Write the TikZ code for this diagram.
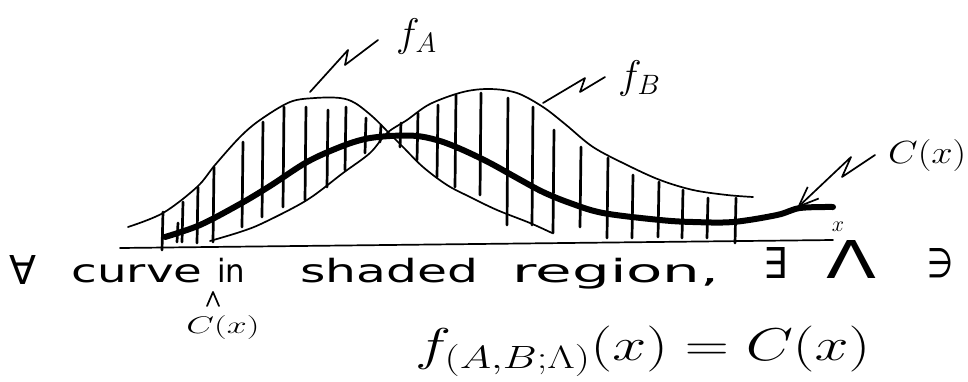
\RequirePackage{fix-cm}
\documentclass[tikz,border=0pt]{standalone}
\usepackage{fontspec}
\setmainfont{DejaVu Sans}
\usetikzlibrary{arrows.meta}
\newcommand{\hwbox}[2]{\resizebox{#1pt}{\height}{#2}}
\newcommand{\hwsym}[3]{\resizebox{#1pt}{#2pt}{#3}}
\begin{document}
\begin{tikzpicture}[x=1pt,y=-1pt,line cap=round,line join=round,
  thinline/.style={line width=1.7pt},
  hatch/.style={line width=2.7pt},
  ccurve/.style={line width=6pt},
  word/.style={inner sep=0pt,anchor=base,font=\fontsize{32}{36}\selectfont},
  every node/.style={inner sep=0pt}]
\useasboundingbox (0,0) rectangle (968,381);

% hatching
\foreach \x/\a/\b in {162/212/250,177/223/242,182/202/242,197/187/243,213/167/242,242/142/227,262/122/217,283/107/207,305/107/200,327/110/187,345/107/170,365/118/153,380/125/142,400/123/147,417/113/160,437/105/177,455/95/187,480/93/195,507/98/225,532/107/225,553/130/233,580/147/227,607/158/238,632/175/238,658/182/237,682/190/238,707/198/238,735/198/243}
  \draw[hatch] (\x+1,\a) -- (\x,\b);

% axis
\coordinate (ax0) at (120,248);
\coordinate (ax1) at (833,240);
\draw[thinline] (ax0) -- (ax1);
\node[font=\fontsize{22}{24}\selectfont] (xlab) at (838,227) {$x$};

% f_A
\draw[thinline] plot[smooth,tension=0.55] coordinates {(128,227) (163,213) (197,187) (215,165) (240,137) (260,120) (290,102) (315,98) (340,98) (355,103) (373,117) (388,132) (403,147) (423,167) (447,185) (470,197) (497,210) (530,223) (552,233)};
% f_B
\draw[thinline] plot[smooth,tension=0.55] coordinates {(210,241) (240,232) (263,223) (307,200) (343,173) (370,153) (387,133) (407,120) (430,104) (463,92) (490,89) (517,93) (543,107) (565,124) (593,147) (627,165) (660,180) (693,190) (727,195) (753,197)};
% C(x)
\draw[ccurve] plot[smooth,tension=0.55] coordinates {(165,237) (200,225) (240,204) (270,186) (307,162) (340,147) (365,139) (390,136) (417,136) (440,141) (463,150) (490,163) (517,178) (543,192) (570,203) (603,213) (660,220) (693,222) (733,222) (777,215) (800,208) (833,207)};

% labels with leaders
\node[font=\fontsize{40}{44}\selectfont,anchor=west] (fA) at (396,36) {$f_A$};
\node[font=\fontsize{40}{44}\selectfont,anchor=west] (fB) at (618,78) {$f_B$};
\node[font=\fontsize{32}{36}\selectfont,anchor=west] (Cx) at (888,155) {\hwbox{78}{$C(x)$}};
\coordinate (fAon) at (310,92);
\coordinate (fAend) at (378,40);
\draw[thinline] (fAon) -- (348,50) -- (345,65) -- (fAend);
\coordinate (fBon) at (543,103);
\coordinate (fBend) at (605,77);
\draw[thinline] (fBon) -- (585,78) -- (580,92) -- (fBend);
\coordinate (Cstart) at (875,155);
\coordinate (Con) at (797,208);
\draw[thinline,-{Straight Barb[length=20pt,width=16pt,line width=1.7pt]}] (Cstart) -- (842,177) -- (851,157) -- (Con);

% first text line
\node[word] (forall) at (23,284) {\hwsym{27}{29}{∀}};
\node[word] (curve) at (137,282) {\hwbox{131}{curve}};
\node[word] (in) at (231,282) {\hwbox{28}{in}};
\node[word] (shaded) at (389,282) {\hwbox{178}{shaded}};
\node[word] (region) at (616,282) {\hwbox{207}{region,}};
\node[word] (exists) at (775,278) {\hwsym{24}{31}{∃}};
\node[word] (lam) at (851,278) {\hwsym{50}{38}{Λ}};
\node[word] (ni) at (940,277) {\hwsym{26}{29}{∋}};
\draw[thinline] (207,306) -- (213,292) -- (219,306);
\node[font=\fontsize{24}{26}\selectfont,anchor=base] (Cx2) at (223,333) {\hwbox{73}{$C(x)$}};

% second line
\node[font=\fontsize{46}{50}\selectfont,anchor=base west] (eq) at (415,360) {\hwbox{455}{$f_{(A,B;\Lambda)}(x)=C(x)$}};
\end{tikzpicture}
\end{document}
